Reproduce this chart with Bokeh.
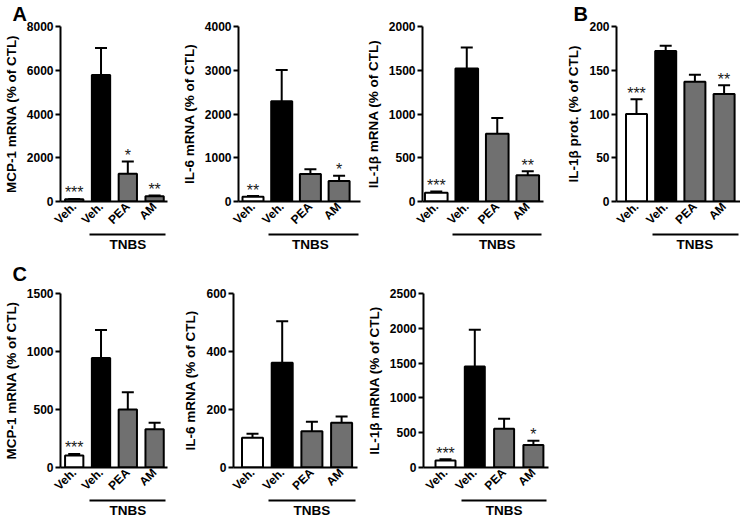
import math
from bokeh.plotting import figure
from bokeh.models import (Range1d, FixedTicker, LinearAxis, Whisker,
                          TeeHead, ColumnDataSource, Title)
from bokeh.layouts import row, column
from bokeh.embed import file_html
from bokeh.resources import INLINE
from bokeh.core.properties import value

# ---------------- data ----------------
conditions = ["Veh.", "Veh.", "PEA", "AM"]
group_name = "TNBS"
bar_colors = ["white", "black", "#707070", "#707070"]

a_mcp1_mean = [100, 5780, 1270, 240]
a_mcp1_sem = [20, 1235, 560, 30]
a_mcp1_sig = ["***", "", "*", "**"]
a_mcp1_ticks = [0, 2000, 4000, 6000, 8000]

a_il6_mean = [110, 2290, 630, 470]
a_il6_sem = [15, 715, 110, 120]
a_il6_sig = ["**", "", "", "*"]
a_il6_ticks = [0, 1000, 2000, 3000, 4000]

a_il1b_mean = [100, 1520, 775, 300]
a_il1b_sem = [15, 240, 180, 45]
a_il1b_sig = ["***", "", "", "**"]
a_il1b_ticks = [0, 500, 1000, 1500, 2000]

b_prot_mean = [100, 172, 137, 123]
b_prot_sem = [17, 6, 8, 10]
b_prot_sig = ["***", "", "", "**"]
b_prot_ticks = [0, 50, 100, 150, 200]

c_mcp1_mean = [103, 943, 500, 329]
c_mcp1_sem = [14, 243, 149, 57]
c_mcp1_sig = ["***", "", "", ""]
c_mcp1_ticks = [0, 500, 1000, 1500]

c_il6_mean = [103, 361, 125, 154]
c_il6_sem = [13, 143, 33, 22]
c_il6_sig = ["", "", "", ""]
c_il6_ticks = [0, 200, 400, 600]

c_il1b_mean = [100, 1450, 555, 322]
c_il1b_sem = [18, 528, 147, 62]
c_il1b_sig = ["***", "", "", "*"]
c_il1b_ticks = [0, 500, 1000, 1500, 2000, 2500]

FONT = "Liberation Sans"


def panel(mean, sem, sig, ticks, ylabel, fig_w, fig_h, b_left, b_right, b_top,
          frame_w, frame_h, first_px, step_px, bar_px, letter=None,
          letter_dx=0, letter_standoff=0):
    b_bottom = fig_h - b_top - frame_h
    x0 = 1 - first_px / step_px
    x1 = x0 + frame_w / step_px
    y1 = ticks[-1]
    bw = bar_px / step_px
    xs = list(range(1, len(mean) + 1))

    p = figure(width=fig_w, height=fig_h, x_range=Range1d(x0, x1),
               y_range=Range1d(0, y1), output_backend="svg",
               toolbar_location=None, min_border_left=b_left,
               min_border_right=b_right, min_border_top=b_top,
               min_border_bottom=b_bottom)
    p.outline_line_color = None
    p.xgrid.visible = False
    p.ygrid.visible = False
    p.background_fill_color = "white"
    p.border_fill_color = "white"

    if letter:
        p.add_layout(Title(text=letter, align="left", offset=letter_dx,
                           standoff=letter_standoff, vertical_align="top",
                           text_font=FONT, text_font_size="20px",
                           text_font_style="bold", text_color="black"),
                     "above")

    ya = p.yaxis[0]
    ya.ticker = FixedTicker(ticks=ticks)
    ya.minor_tick_line_color = None
    ya.major_tick_out = 5
    ya.major_tick_in = 0
    ya.major_tick_line_width = 2
    ya.axis_line_width = 2
    ya.major_label_text_font = FONT
    ya.major_label_text_font_style = "bold"
    ya.major_label_text_font_size = "12px"
    ya.major_label_text_color = "black"
    ya.major_label_standoff = 2
    ya.axis_label = ylabel
    ya.axis_label_text_font = FONT
    ya.axis_label_text_font_style = "bold"
    ya.axis_label_text_font_size = "13.5px"
    ya.axis_label_text_color = "black"
    ya.axis_label_standoff = 5

    xa = p.xaxis[0]
    xa.ticker = FixedTicker(ticks=xs)
    xa.major_label_overrides = {i: c for i, c in zip(xs, conditions)}
    xa.major_label_orientation = math.pi / 4
    xa.major_tick_line_color = None
    xa.minor_tick_line_color = None
    xa.major_tick_out = 0
    xa.major_tick_in = 0
    xa.axis_line_width = 2
    xa.major_label_text_font = FONT
    xa.major_label_text_font_style = "bold"
    xa.major_label_text_font_size = "12px"
    xa.major_label_text_color = "black"
    xa.major_label_standoff = 3

    ta = LinearAxis(ticker=FixedTicker(ticks=[3]),
                    major_label_overrides={3: group_name},
                    bounds=(2 - bw / 2 - 3 / step_px, x1 - 2 / step_px),
                    axis_line_width=2, major_tick_line_color=None,
                    minor_tick_line_color=None, major_tick_out=0,
                    major_tick_in=0, major_label_text_font=FONT,
                    major_label_text_font_style="bold",
                    major_label_text_font_size="13.5px",
                    major_label_text_color="black", major_label_standoff=2)
    p.add_layout(ta, "below")

    upper = [m + s for m, s in zip(mean, sem)]
    src = ColumnDataSource(dict(x=xs, top=mean, upper=upper, color=bar_colors))
    p.vbar(x="x", top="top", bottom=0, width=bw, fill_color="color",
           line_color="black", line_width=2, source=src)
    wh = Whisker(source=src, base="x", lower="top", upper="upper",
                 line_width=2, line_color="black",
                 upper_head=TeeHead(size=12, line_width=2, line_color="black"),
                 lower_head=None)
    p.add_layout(wh)

    sx = [x for x, s in zip(xs, sig) if s]
    sy = [u for u, s in zip(upper, sig) if s]
    st = [s for s in sig if s]
    if st:
        p.text(x=sx, y=sy, text=st, text_align="center",
               text_baseline="alphabetic", y_offset=-6,
               text_font=value(FONT), text_font_size="16px",
               text_color="#1a1a1a")
    return p


H1, T1, F1 = 254, 26, 176
H2, T2, F2 = 266, 39, 175

pa1 = panel(a_mcp1_mean, a_mcp1_sem, a_mcp1_sig, a_mcp1_ticks,
            "MCP-1 mRNA (% of CTL)", 175, H1, 50, 8, T1, 117, F1,
            15, 29.3, 20, "A", -48, 0)
pa2 = panel(a_il6_mean, a_il6_sem, a_il6_sig, a_il6_ticks,
            "IL-6 mRNA (% of CTL)", 187, H1, 63, 2, T1, 122, F1,
            14.5, 28.7, 21)
pa3 = panel(a_il1b_mean, a_il1b_sem, a_il1b_sig, a_il1b_ticks,
            "IL-1β mRNA (% of CTL)", 183, H1, 58, 2, T1, 123, F1,
            14, 31, 23)
pb = panel(b_prot_mean, b_prot_sem, b_prot_sig, b_prot_ticks,
           "IL-1β prot. (% of CTL)", 195, H1, 71, 0, T1, 124, F1,
           20, 29.2, 21, "B", -43, 0)
pc1 = panel(c_mcp1_mean, c_mcp1_sem, c_mcp1_sig, c_mcp1_ticks,
            "MCP-1 mRNA (% of CTL)", 173, H2, 50, 6, T2, 117, F2,
            15, 29.3, 20, "C", -48, 14)
pc2 = panel(c_il6_mean, c_il6_sem, c_il6_sig, c_il6_ticks,
            "IL-6 mRNA (% of CTL)", 188, H2, 60, 4, T2, 124, F2,
            19, 29.7, 21)
pc3 = panel(c_il1b_mean, c_il1b_sem, c_il1b_sig, c_il1b_ticks,
            "IL-1β mRNA (% of CTL)", 191, H2, 62, 4, T2, 125, F2,
            22, 29.3, 20)

p = column(row(pa1, pa2, pa3, pb), row(pc1, pc2, pc3))

open("out.html", "w").write(file_html(p, INLINE))
